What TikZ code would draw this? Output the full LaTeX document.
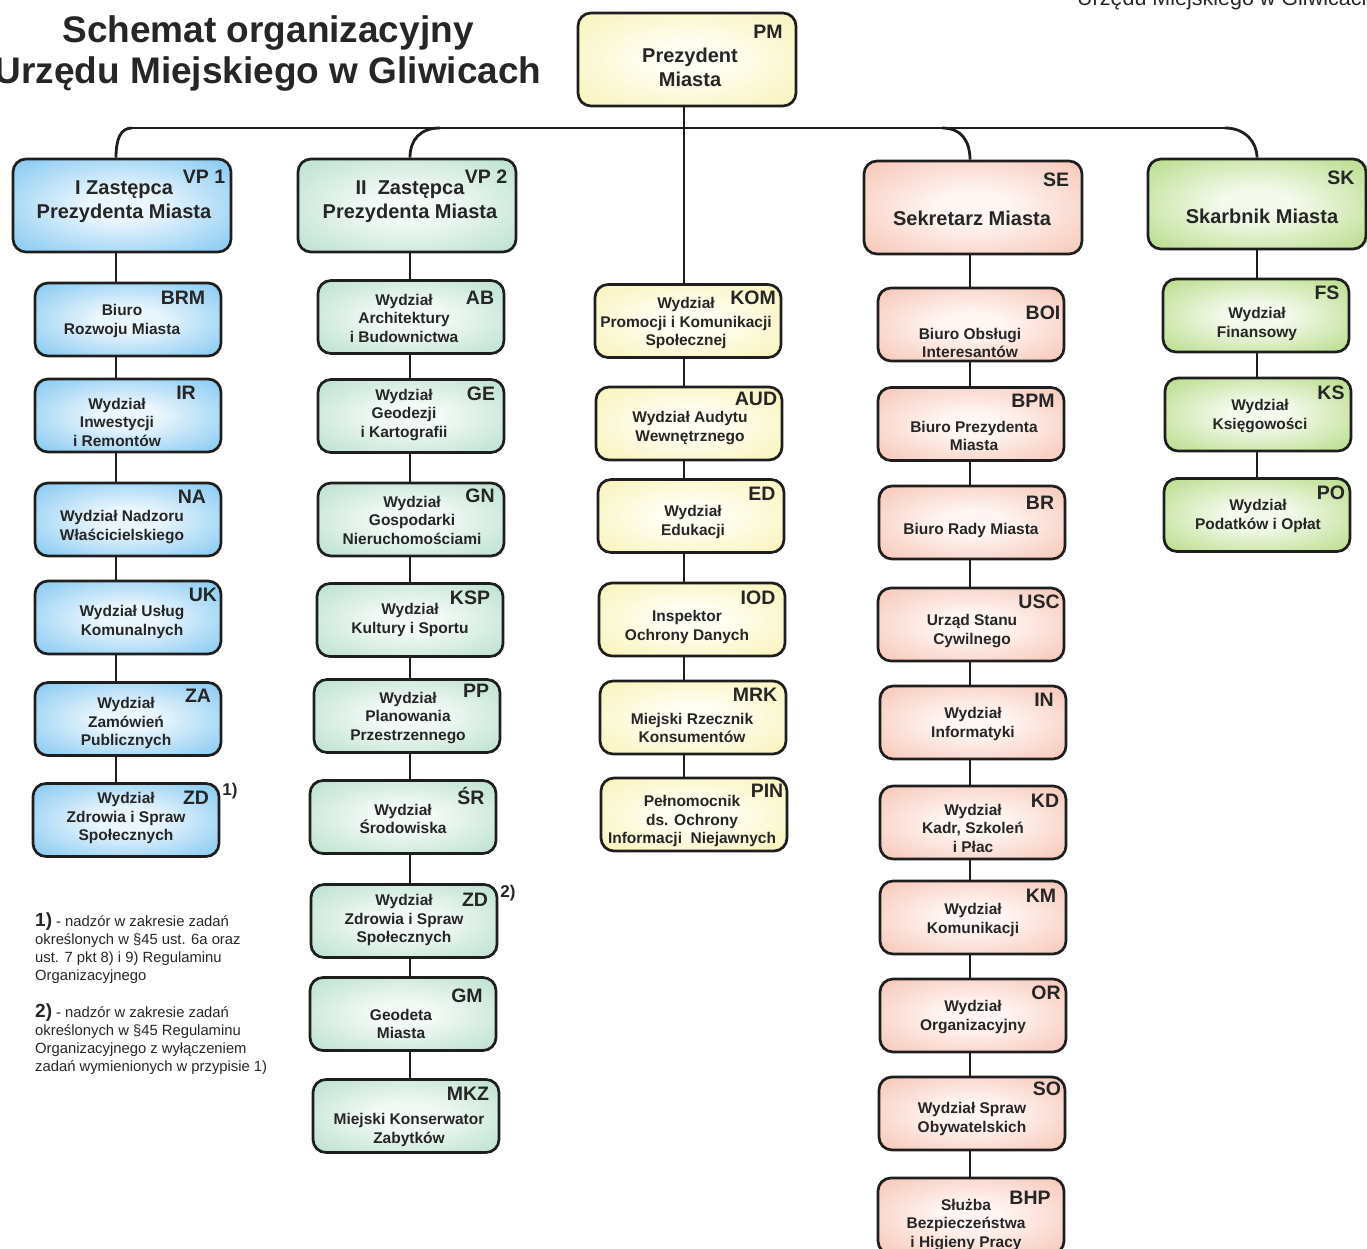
\documentclass[tikz,border=0pt]{standalone}
\usepackage{fontspec}
\setmainfont{Liberation Sans}
\usepackage{tikz}
\usetikzlibrary{backgrounds}
\definecolor{boxline}{HTML}{1E1E1E}
\definecolor{txtgray}{HTML}{262626}
\definecolor{blueIn}{HTML}{EAF6FD}
\definecolor{blueOut}{HTML}{55B3EC}
\definecolor{mintIn}{HTML}{F3FAF6}
\definecolor{mintOut}{HTML}{A1D5BC}
\definecolor{yellowIn}{HTML}{FFFEF3}
\definecolor{yellowOut}{HTML}{F6EE9E}
\definecolor{salmonIn}{HTML}{FFF6F3}
\definecolor{salmonOut}{HTML}{F2B09B}
\definecolor{limeIn}{HTML}{F4FAEC}
\definecolor{limeOut}{HTML}{9CCE5D}
\pgfdeclareradialshading{blueglow}{\pgfpoint{0bp}{0bp}}{color(0bp)=(blueIn); color(8bp)=(blueIn); color(48bp)=(blueOut); color(50bp)=(blueOut)}
\pgfdeclareradialshading{mintglow}{\pgfpoint{0bp}{0bp}}{color(0bp)=(mintIn); color(8bp)=(mintIn); color(48bp)=(mintOut); color(50bp)=(mintOut)}
\pgfdeclareradialshading{yellowglow}{\pgfpoint{0bp}{0bp}}{color(0bp)=(yellowIn); color(8bp)=(yellowIn); color(48bp)=(yellowOut); color(50bp)=(yellowOut)}
\pgfdeclareradialshading{salmonglow}{\pgfpoint{0bp}{0bp}}{color(0bp)=(salmonIn); color(8bp)=(salmonIn); color(48bp)=(salmonOut); color(50bp)=(salmonOut)}
\pgfdeclareradialshading{limeglow}{\pgfpoint{0bp}{0bp}}{color(0bp)=(limeIn); color(8bp)=(limeIn); color(48bp)=(limeOut); color(50bp)=(limeOut)}

\begin{document}
\begin{tikzpicture}[
  x=1pt,y=-1pt,
  box/.style={draw=boxline,line width=2.7pt,rounded corners=13pt,minimum width=186pt,minimum height=73pt,inner sep=0pt},
  head/.style={box,minimum width=218pt,minimum height=93pt},
  blu/.style={shade,shading=blueglow},
  mint/.style={shade,shading=mintglow},
  yel/.style={shade,shading=yellowglow},
  sal/.style={shade,shading=salmonglow},
  lime/.style={shade,shading=limeglow},
  txt/.style={align=center,inner sep=0pt,yshift=-3pt,text=txtgray,font=\fontsize{15.5}{18.5}\selectfont\bfseries},
  headtxt/.style={align=center,inner sep=0pt,yshift=-2pt,text=txtgray,font=\fontsize{20}{24}\selectfont\bfseries},
  code/.style={inner sep=0pt,yshift=-1pt,text=txtgray,font=\fontsize{19.5}{20}\selectfont\bfseries},
  fnmark/.style={inner sep=0pt,text=txtgray,font=\fontsize{17}{18}\selectfont\bfseries},
  note/.style={align=left,inner sep=0pt,text=txtgray,font=\fontsize{14.8}{18}\selectfont},
  link/.style={draw=boxline,line width=2.8pt}
]
\useasboundingbox (0,0) rectangle (1367,1249);

% title
\node[align=center,inner sep=0pt,text=txtgray,font=\fontsize{37}{41}\selectfont\bfseries] (title) at (268,54) {Schemat organizacyjny\\Urzędu Miejskiego w Gliwicach};
\node[anchor=base west,inner sep=0pt,text=txtgray,font=\fontsize{21.5}{24}\selectfont] (corner) at (1077,6) {Urzędu Miejskiego w Gliwicach};

% president
\node[head,yel] (pm) at (687,59.5) {};
\node[headtxt] (pm-t) at (690,65) {Prezydent\\Miasta};
\node[code] (pm-c) at (768,31) {PM};

% column 1
\node[head,blu] (vp1) at (122,205.5) {};
\node[headtxt] (vp1-t) at (124,200) {I Zastępca\\Prezydenta Miasta};
\node[code] (vp1-c) at (204,176) {VP 1};
\node[box,blu] (brm) at (128,319.5) {};
\node[txt] (brm-t) at (122,318) {Biuro\\Rozwoju Miasta};
\node[code] (brm-c) at (183,297) {BRM};
\node[box,blu] (ir) at (128,415.5) {};
\node[txt] (ir-t) at (117,419) {Wydział\\Inwestycji\\i Remontów};
\node[code] (ir-c) at (186,392) {IR};
\node[box,blu] (na) at (128,519.5) {};
\node[txt] (na-t) at (122,524) {Wydział Nadzoru\\Właścicielskiego};
\node[code] (na-c) at (192,496) {NA};
\node[box,blu] (uk) at (128,617.5) {};
\node[txt] (uk-t) at (132,619) {Wydział Usług\\Komunalnych};
\node[code] (uk-c) at (203,594) {UK};
\node[box,blu] (za) at (128,719) {};
\node[txt] (za-t) at (126,720) {Wydział\\Zamówień\\Publicznych};
\node[code] (za-c) at (198,695) {ZA};
\node[box,blu] (zd1) at (126,820) {};
\node[txt] (zd1-t) at (126,815) {Wydział\\Zdrowia i Spraw\\Społecznych};
\node[code] (zd1-c) at (196,797) {ZD};
\node[fnmark] (zd1-m) at (230,791) {1)};

% column 2
\node[head,mint] (vp2) at (407,205.5) {};
\node[headtxt] (vp2-t) at (410,200) {II~ Zastępca\\Prezydenta Miasta};
\node[code] (vp2-c) at (486,176) {VP 2};
\node[box,mint] (ab) at (411,317) {};
\node[txt] (ab-t) at (404,315) {Wydział\\Architektury\\i Budownictwa};
\node[code] (ab-c) at (480,297) {AB};
\node[box,mint] (ge) at (411,416) {};
\node[txt] (ge-t) at (404,412) {Wydział\\Geodezji\\i Kartografii};
\node[code] (ge-c) at (481,393) {GE};
\node[box,mint] (gn) at (411,519.5) {};
\node[txt] (gn-t) at (412,517) {Wydział\\Gospodarki\\Nieruchomościami};
\node[code] (gn-c) at (480,495) {GN};
\node[box,mint] (ksp) at (410,620) {};
\node[txt] (ksp-t) at (410,617) {Wydział\\Kultury i Sportu};
\node[code] (ksp-c) at (470,597) {KSP};
\node[box,mint] (pp) at (407,716) {};
\node[txt] (pp-t) at (408,715) {Wydział\\Planowania\\Przestrzennego};
\node[code] (pp-c) at (476,690) {PP};
\node[box,mint] (sr) at (403,817) {};
\node[txt] (sr-t) at (403,816) {Wydział\\Środowiska};
\node[code] (sr-c) at (471,795) {ŚR};
\node[box,mint] (zd2) at (404,921) {};
\node[txt] (zd2-t) at (404,917) {Wydział\\Zdrowia i Spraw\\Społecznych};
\node[code] (zd2-c) at (475,899) {ZD};
\node[fnmark] (zd2-m) at (508,893) {2)};
\node[box,mint] (gm) at (403,1014) {};
\node[txt] (gm-t) at (401,1021) {Geodeta\\Miasta};
\node[code] (gm-c) at (467,995) {GM};
\node[box,mint] (mkz) at (406,1116) {};
\node[txt] (mkz-t) at (409,1127) {Miejski Konserwator\\Zabytków};
\node[code] (mkz-c) at (468,1093) {MKZ};

% column 3
\node[box,yel] (kom) at (688,321) {};
\node[txt] (kom-t) at (686,320) {Wydział\\Promocji i Komunikacji\\Społecznej};
\node[code] (kom-c) at (753,297) {KOM};
\node[box,yel] (aud) at (689,423.5) {};
\node[txt] (aud-t) at (690,425) {Wydział Audytu\\Wewnętrznego};
\node[code] (aud-c) at (756,398) {AUD};
\node[box,yel] (ed) at (691,516) {};
\node[txt] (ed-t) at (693,519) {Wydział\\Edukacji};
\node[code] (ed-c) at (762,493) {ED};
\node[box,yel] (iod) at (692,619.5) {};
\node[txt] (iod-t) at (687,624) {Inspektor\\Ochrony Danych};
\node[code] (iod-c) at (758,597) {IOD};
\node[box,yel] (mrk) at (693,717.5) {};
\node[txt] (mrk-t) at (692,725) {Miejski Rzecznik\\Konsumentów};
\node[code] (mrk-c) at (755,694) {MRK};
\node[box,yel] (pin) at (694,814.5) {};
\node[txt] (pin-t) at (692,818) {Pełnomocnik\\ds. Ochrony\\Informacji~ Niejawnych};
\node[code] (pin-c) at (767,790) {PIN};

% column 4
\node[head,sal] (se) at (973,207.5) {};
\node[headtxt] (se-t) at (972,216) {Sekretarz Miasta};
\node[code] (se-c) at (1056,179) {SE};
\node[box,sal] (boi) at (971,324.5) {};
\node[txt] (boi-t) at (970,340) {Biuro Obsługi\\Interesantów};
\node[code] (boi-c) at (1043,312) {BOI};
\node[box,sal] (bpm) at (971,424) {};
\node[txt] (bpm-t) at (974,433) {Biuro Prezydenta\\Miasta};
\node[code] (bpm-c) at (1033,400) {BPM};
\node[box,sal] (br) at (972,522.5) {};
\node[txt] (br-t) at (971,527) {Biuro Rady Miasta};
\node[code] (br-c) at (1040,502) {BR};
\node[box,sal] (usc) at (971,624.5) {};
\node[txt] (usc-t) at (972,628) {Urząd Stanu\\Cywilnego};
\node[code] (usc-c) at (1039,601) {USC};
\node[box,sal] (inf) at (973,722.5) {};
\node[txt] (inf-t) at (973,721) {Wydział\\Informatyki};
\node[code] (inf-c) at (1044,699) {IN};
\node[box,sal] (kd) at (973,822.5) {};
\node[txt] (kd-t) at (973,825) {Wydział\\Kadr, Szkoleń\\i Płac};
\node[code] (kd-c) at (1045,800) {KD};
\node[box,sal] (km) at (973,917.5) {};
\node[txt] (km-t) at (973,917) {Wydział\\Komunikacji};
\node[code] (km-c) at (1041,895) {KM};
\node[box,sal] (or) at (973,1015.5) {};
\node[txt] (or-t) at (973,1014) {Wydział\\Organizacyjny};
\node[code] (or-c) at (1046,992) {OR};
\node[box,sal] (so) at (972,1113.5) {};
\node[txt] (so-t) at (972,1116) {Wydział Spraw\\Obywatelskich};
\node[code] (so-c) at (1047,1088) {SO};
\node[box,sal,minimum height=76pt] (bhp) at (971,1216) {};
\node[txt] (bhp-t) at (966,1222) {Służba\\Bezpieczeństwa\\i Higieny Pracy};
\node[code] (bhp-c) at (1030,1197) {BHP};

% column 5
\node[head,lime,minimum height=90pt] (sk) at (1257,204) {};
\node[headtxt] (sk-t) at (1262,214) {Skarbnik Miasta};
\node[code] (sk-c) at (1341,177) {SK};
\node[box,lime] (fs) at (1256,315.5) {};
\node[txt] (fs-t) at (1257,321) {Wydział\\Finansowy};
\node[code] (fs-c) at (1327,292) {FS};
\node[box,lime] (ks) at (1258,414.5) {};
\node[txt] (ks-t) at (1260,413) {Wydział\\Księgowości};
\node[code] (ks-c) at (1331,392) {KS};
\node[box,lime] (po) at (1257,515) {};
\node[txt] (po-t) at (1258,513) {Wydział\\Podatków i Opłat};
\node[code] (po-c) at (1331,492) {PO};

% footnotes
\node[note,anchor=north west] (fn1) at (35,913) {{\fontsize{19}{18}\selectfont\bfseries 1)} - nadzór w zakresie zadań\\określonych w §45 ust. 6a oraz\\ust. 7 pkt 8) i 9) Regulaminu\\Organizacyjnego};
\node[note,anchor=north west] (fn2) at (35,1004) {{\fontsize{19}{18}\selectfont\bfseries 2)} - nadzór w zakresie zadań\\określonych w §45 Regulaminu\\Organizacyjnego z wyłączeniem\\zadań wymienionych w przypisie 1)};

% connectors
\coordinate (c1) at (116,0);
\coordinate (c2) at (410,0);
\coordinate (c3) at (684,0);
\coordinate (c4) at (970,0);
\coordinate (c5) at (1257,0);
\coordinate (b1) at (132,128);
\coordinate (b2) at (440,128);
\coordinate (b4) at (942,128);
\coordinate (b5) at (1225,128);
\begin{scope}[on background layer]
\draw[link] (b1) -- (b5);
\draw[link] (b1) .. controls (120,128) and (116,140) .. (vp1.north -| c1);
\draw[link] (b2) .. controls (420,128) and (410,140) .. (vp2.north -| c2);
\draw[link] (b4) .. controls (962,128) and (970,142) .. (se.north -| c4);
\draw[link] (b5) .. controls (1245,128) and (1257,142) .. (sk.north -| c5);
\draw[link] (pm.south -| c3) -- (pin.north -| c3);
\draw[link] (vp1.south -| c1) -- (zd1.north -| c1);
\draw[link] (vp2.south -| c2) -- (mkz.north -| c2);
\draw[link] (se.south -| c4) -- (bhp.north -| c4);
\draw[link] (sk.south -| c5) -- (po.north -| c5);
\end{scope}
\end{tikzpicture}
\end{document}
